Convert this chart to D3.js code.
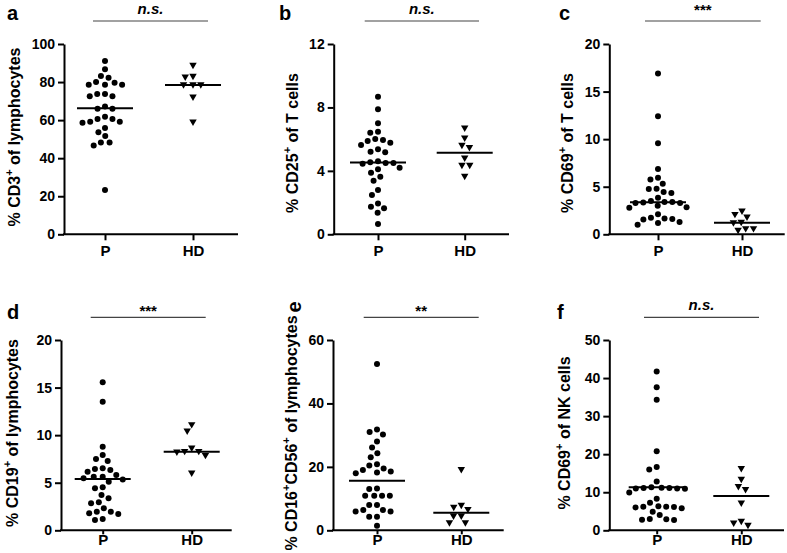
<!DOCTYPE html>
<html><head><meta charset="utf-8">
<script src="https://cdn.jsdelivr.net/npm/d3@7"></script>
<style>
html,body{margin:0;padding:0;background:#fff;}
svg{display:block;font-family:"Liberation Sans",Arial,sans-serif;}
</style></head>
<body><svg id="chart" width="787" height="553"></svg>
<script>
// ---------------- DATA ----------------
const panelLetters = ["a","b","c","d","e","f"];
const groups = ["P","HD"];
const yLabels = [
  [["% CD3",0],["+",1],[" of lymphocytes",0]],
  [["% CD25",0],["+",1],[" of T cells",0]],
  [["% CD69",0],["+",1],[" of T cells",0]],
  [["% CD19",0],["+",1],[" of lymphocytes",0]],
  [["% CD16",0],["+",1],["CD56",0],["+",1],[" of lymphocytes",0]],
  [["% CD69",0],["+",1],[" of NK cells",0]]
];
const yMax = [100, 12, 20, 20, 60, 50];
const yTicks = [[0,20,40,60,80,100],[0,4,8,12],[0,5,10,15,20],[0,5,10,15,20],[0,20,40,60],[0,10,20,30,40,50]];
const sigLabels = ["n.s.","n.s.","***","***","**","n.s."];

const pA  = [91.1,86.7,83.2,82.3,80.0,79.7,78.6,78.6,78.6,73.7,73.7,72.5,72.5,67.2,66.0,66.0,61.8,60.6,60.6,59.2,59.2,58.6,55.8,53.6,51.6,48.2,48.2,46.6,23.3];
const hdA = [89.0,83.2,82.8,78.8,78.8,78.8,72.3,59.2];
const pB  = [8.68,7.88,7.0,6.47,6.41,6.01,5.95,5.89,5.78,5.63,5.36,5.21,5.17,4.6,4.55,4.5,4.5,4.45,4.2,4.1,3.88,3.63,3.38,2.79,2.48,1.95,1.74,1.64,1.36,0.65];
const hdB = [6.72,6.09,5.63,5.49,4.83,4.37,4.37,3.68];
const pC  = [16.9,12.4,9.56,6.86,5.95,5.75,5.3,4.8,4.75,4.45,4.35,3.85,3.5,3.4,3.4,3.35,3.3,3.3,3.0,2.85,2.8,2.1,1.75,1.65,1.6,1.55,1.3,1.2,1.0];
const hdC = [2.48,2.13,1.85,1.3,1.25,0.63,0.63,0.45];
const pD  = [15.55,13.5,8.79,7.91,7.49,7.28,6.51,6.44,6.34,6.16,5.81,5.63,5.63,5.46,5.35,5.11,4.52,4.41,3.71,3.36,2.94,2.84,2.31,1.95,1.95,1.78,1.71,1.19,1.08];
const hdD = [11.14,10.47,8.68,8.33,8.33,8.26,7.91,6.05];
const pE  = [52.4,31.8,31.0,30.2,28.0,26.1,24.3,23.0,20.8,20.4,19.5,19.0,18.5,18.2,18.0,13.2,13.0,10.9,10.9,10.9,10.9,8.0,8.0,6.4,6.4,5.9,5.9,4.3,4.3,1.45];
const hdE = [19.3,8.0,7.4,6.7,4.6,4.6,2.5,2.5];
const pF  = [41.7,37.6,34.3,20.8,16.6,16.0,12.8,11.3,11.2,11.1,11.1,11.0,11.0,10.9,9.9,8.3,7.25,6.3,6.2,6.2,6.1,6.0,5.8,4.9,4.0,3.0,2.9,2.8,2.7];
const hdF = [16.3,13.5,11.6,10.8,7.25,2.45,2.0,1.4];
const medP  = [66.2,4.53,3.36,5.39,15.6,11.3];
const medHD = [78.5,5.15,1.22,8.26,5.55,9.0];

const pVals  = [pA,pB,pC,pD,pE,pF];
const hdVals = [hdA,hdB,hdC,hdD,hdE,hdF];

// ---------------- LAYOUT ----------------
const layout = [
  {ax:64,   top:44,  bot:234.3, right:238,   xP:105,   xHD:193,   brL:93,    brR:208,   brY:21,    sigY:14,    lx:15,  ly:137, letter:[7,20],   row:0},
  {ax:333.7,top:44,  bot:234.3, right:509,   xP:378,   xHD:464.7, brL:364.7, brR:479,   brY:21,    sigY:13.5,  lx:293, ly:143, letter:[279,20], row:0},
  {ax:609.3,top:44,  bot:234.3, right:784.7, xP:658,   xHD:742,   brL:645,   brR:760.7, brY:21,    sigY:14.7,  lx:568, ly:143, letter:[559,20], row:0},
  {ax:61,   top:340, bot:530.3, right:231.7, xP:102.7, xHD:191.7, brL:90.7,  brR:205.7, brY:317.3, sigY:315.5, lx:12.5,ly:433, letter:[7,319],  row:1},
  {ax:333,  top:340, bot:530.3, right:503.7, xP:377,   xHD:461.3, brL:363.7, brR:478.7, brY:317.3, sigY:315.5, lx:292, ly:433, letter:null,     row:1},
  {ax:609.3,top:340, bot:530.3, right:784,   xP:656.7, xHD:741.3, brL:644,   brR:759,   brY:317.3, sigY:309.5, lx:565, ly:433, letter:[557,319],row:1}
];

const svg = d3.select("#chart");
svg.append("rect").attr("width",787).attr("height",553).attr("fill","#fff");

function beeswarm(values, y, D) {
  const pts = values.map(v => ({v, y: y(v), x: 0}));
  const order = pts.slice().sort((a,b) => b.v - a.v);
  const placed = [];
  for (const p of order) {
    const cands = [0];
    for (const q of placed) {
      const dy = Math.abs(q.y - p.y);
      if (dy < D) { const dx = Math.sqrt(D*D - dy*dy); cands.push(q.x + dx, q.x - dx); }
    }
    cands.sort((a,b) => Math.abs(a) - Math.abs(b) || a - b);
    for (const c of cands) {
      if (placed.every(q => (q.x-c)**2 + (q.y-p.y)**2 >= D*D - 1e-6)) { p.x = c; break; }
    }
    placed.push(p);
  }
  return pts;
}

layout.forEach((L, i) => {
  const g = svg.append("g");
  const y = d3.scaleLinear().domain([0, yMax[i]]).range([L.bot, L.top]);
  const x = d3.scalePoint().domain(groups).range([L.xP, L.xHD]);

  // y axis
  const yAx = g.append("g").attr("transform", `translate(${L.ax},0)`)
    .call(d3.axisLeft(y).tickValues(yTicks[i]).tickSize(6).tickPadding(3).tickSizeOuter(0));
  yAx.select(".domain").attr("stroke","#000").attr("stroke-width",2);
  yAx.selectAll(".tick line").attr("stroke","#000").attr("stroke-width",2);
  yAx.selectAll(".tick text").attr("font-size",14).attr("font-weight","bold")
     .attr("font-family",'"Liberation Sans",Arial,sans-serif').attr("fill","#000");

  // x axis
  const tickLen = L.row === 0 ? 6 : 4;
  const pad = L.row === 0 ? 5 : 0;
  const xAx = g.append("g").attr("transform", `translate(0,${L.bot})`)
    .call(d3.axisBottom(x).tickSize(tickLen).tickPadding(pad).tickSizeOuter(0));
  xAx.select(".domain").attr("d", `M${L.ax - 1},0H${L.right}`).attr("stroke","#000").attr("stroke-width",2);
  xAx.selectAll(".tick line").attr("stroke","#000").attr("stroke-width",2);
  xAx.selectAll(".tick text").attr("font-size",15).attr("font-weight","bold")
     .attr("font-family",'"Liberation Sans",Arial,sans-serif').attr("fill","#000");

  // y label
  const t = g.append("text")
    .attr("transform", `translate(${L.lx + 5},${L.ly}) rotate(-90)`)
    .attr("text-anchor","middle").attr("font-size",16).attr("font-weight","bold").attr("fill","#000");
  let prevSup = false;
  yLabels[i].forEach(([s, sup]) => {
    const ts = t.append("tspan").text(s);
    if (sup) { ts.attr("font-size",11).attr("dy",-7); prevSup = true; }
    else if (prevSup) { ts.attr("dy",7); prevSup = false; }
  });

  // panel letter
  if (L.letter) {
    g.append("text").attr("x",L.letter[0]).attr("y",L.letter[1])
      .attr("font-size",20).attr("font-weight","bold").attr("fill","#000").text(panelLetters[i]);
  } else {
    g.append("text").attr("transform","translate(301,307) rotate(-90)").attr("text-anchor","middle")
      .attr("font-size",20).attr("font-weight","bold").attr("fill","#000").text(panelLetters[i]);
  }

  // significance bracket
  g.append("line").attr("x1",L.brL).attr("x2",L.brR).attr("y1",L.brY).attr("y2",L.brY)
    .attr("stroke","#444").attr("stroke-width",1.2);
  const isNs = sigLabels[i] === "n.s.";
  g.append("text").attr("x",(L.brL+L.brR)/2).attr("y",L.sigY).attr("text-anchor","middle")
    .attr("font-size",15).attr("font-weight","bold").attr("font-style", isNs ? "italic" : "normal")
    .attr("fill","#000").text(sigLabels[i]);

  // points
  const D = 7.8;
  const pp = beeswarm(pVals[i], y, D);
  g.append("g").selectAll("circle").data(pp).join("circle")
    .attr("cx", d => x("P") + d.x).attr("cy", d => d.y).attr("r", 3).attr("fill","#000");
  const hp = beeswarm(hdVals[i], y, D);
  const tri = d3.symbol().type(d3.symbolTriangle).size(24);
  g.append("g").selectAll("path").data(hp).join("path")
    .attr("d", tri)
    .attr("transform", d => `translate(${x("HD") + d.x},${d.y}) rotate(180)`)
    .attr("fill","#000");

  // medians
  const mw = 28;
  [["P", medP[i]], ["HD", medHD[i]]].forEach(([grp, m]) => {
    g.append("line").attr("x1", x(grp) - mw).attr("x2", x(grp) + mw)
      .attr("y1", y(m)).attr("y2", y(m)).attr("stroke","#000").attr("stroke-width",2);
  });
});
</script></body></html>
